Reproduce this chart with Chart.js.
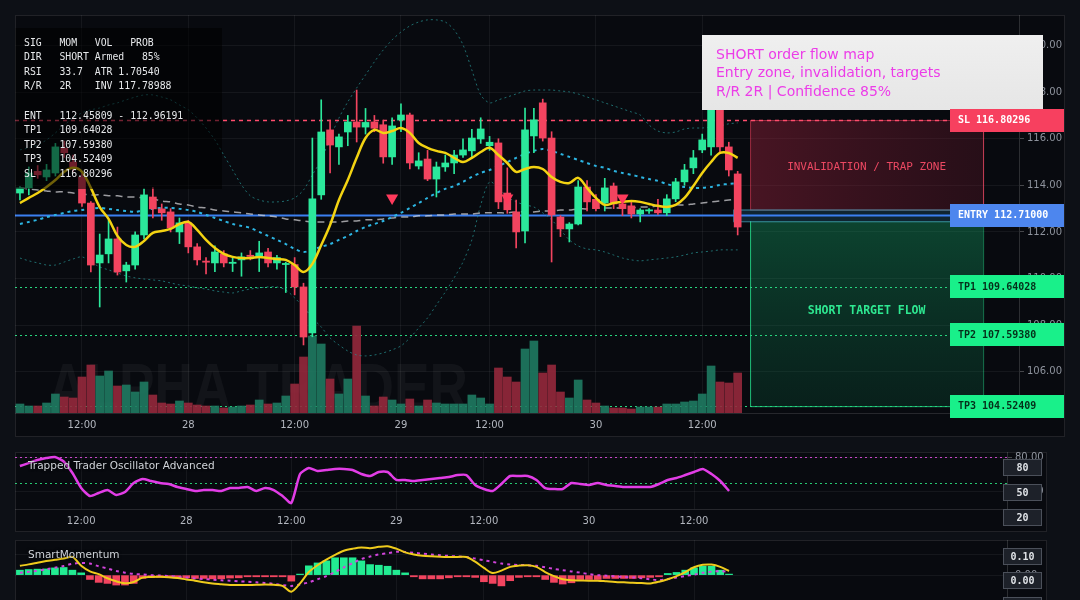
<!DOCTYPE html>
<html>
<head>
<meta charset="utf-8">
<script src="https://cdn.jsdelivr.net/npm/chart.js@4.4.1/dist/chart.umd.min.js"></script>
<style>
  html, body { margin: 0; padding: 0; background: #0d1016; }
  body { width: 1080px; height: 600px; position: relative; overflow: hidden; }
  canvas { position: absolute; }
  #main { left: 15px; top: 15px; }
  #osc { left: 15px; top: 452px; }
  #mom { left: 15px; top: 540px; }
</style>
</head>
<body>
<canvas id="main" width="1050" height="422"></canvas>
<canvas id="osc" width="1032" height="80"></canvas>
<canvas id="mom" width="1032" height="62"></canvas>
<script>
// time axis (hourly candles, index based)
const tickIdx = [7, 19, 31, 43, 53, 65, 77];
const tickText = ['12:00', '28', '12:00', '29', '12:00', '30', '12:00'];
const priceTicks = [106, 108, 110, 112, 114, 116, 118, 120];
const oscTicks = [40, 80];
const momTicks = [0, 0.1];

const openP = [113.67,113.89,114.60,114.36,114.53,115.60,115.00,114.36,113.24,110.67,
  111.06,111.70,110.33,110.58,111.87,113.50,112.99,112.86,112.00,112.39,
  111.36,110.75,110.67,111.06,110.65,110.80,111.00,110.95,111.14,110.67,
  110.60,110.60,109.64,107.67,113.59,116.38,115.65,116.29,116.72,116.50,
  116.72,116.60,115.22,116.80,117.02,114.83,115.13,114.27,114.79,114.96,
  115.30,115.48,115.99,115.70,115.82,113.67,112.86,112.04,116.12,117.54,
  116.03,112.64,112.13,112.34,113.93,113.40,113.24,113.97,113.20,113.12,
  112.77,112.90,112.94,112.82,113.42,114.15,114.75,115.52,115.65,117.70,
  115.65,114.49];
const highP = [113.95,114.79,114.85,114.90,115.80,115.90,115.30,114.50,113.30,111.91,
  112.52,112.21,110.70,112.00,113.85,113.90,113.20,113.00,112.60,112.50,
  111.50,110.90,111.40,111.20,110.90,111.10,111.20,111.60,111.30,111.00,
  110.70,110.90,109.80,116.03,117.67,116.80,116.20,117.00,118.09,117.30,
  117.00,116.80,116.90,117.50,117.10,115.40,115.50,115.00,115.30,115.50,
  116.00,116.40,116.90,116.10,116.00,114.75,113.37,117.32,117.30,117.70,
  116.30,112.70,112.40,114.20,114.20,113.60,114.30,114.10,113.50,113.30,
  113.00,113.00,113.40,113.60,114.30,114.90,115.50,116.20,118.30,118.00,
  115.85,114.60];
const lowP = [113.37,113.59,114.30,114.20,114.40,115.20,114.60,113.10,110.28,108.78,
  110.67,110.15,109.85,110.40,111.70,112.60,112.50,112.00,111.50,111.10,
  110.58,110.20,110.30,110.50,110.30,110.10,110.80,110.30,110.50,110.40,
  109.40,109.30,107.15,107.50,113.40,114.53,114.90,115.70,115.86,116.20,
  116.30,114.95,114.90,116.30,114.70,114.70,114.20,113.50,114.60,114.50,
  115.20,115.20,115.80,115.50,113.00,112.80,111.31,111.53,115.40,115.90,
  110.71,111.80,111.57,112.30,112.90,112.90,112.90,113.00,112.70,112.60,
  112.43,112.80,112.75,112.70,113.30,114.00,114.50,115.40,115.30,115.40,
  114.40,111.87];
const closeP = [113.89,114.53,114.45,114.66,115.65,115.40,114.80,113.24,110.58,111.01,
  111.70,110.28,110.58,111.87,113.59,112.99,112.82,112.17,112.39,111.36,
  110.80,110.70,111.14,110.67,110.70,110.93,110.95,111.10,110.67,110.90,
  110.65,109.64,107.49,113.42,116.29,115.73,116.08,116.72,116.50,116.70,
  116.45,115.22,116.55,117.02,114.96,115.05,114.27,114.79,114.96,115.30,
  115.52,116.03,116.42,115.85,113.29,112.95,112.00,116.38,116.81,116.03,
  112.73,112.13,112.34,113.93,113.29,113.00,113.89,113.20,113.00,112.77,
  112.94,112.95,112.82,113.42,114.15,114.66,115.18,115.95,117.80,115.65,
  114.66,112.21];
const volume = [90,70,70,100,190,160,150,360,480,370,
  420,270,280,210,310,180,100,90,120,100,
  80,70,70,50,60,70,80,130,90,100,
  170,290,560,770,690,340,190,340,870,170,
  70,160,130,90,140,70,130,100,90,90,
  90,180,150,90,450,360,310,640,720,400,
  480,210,150,330,130,100,70,50,50,40,
  60,60,60,90,90,110,120,190,470,310,
  300,400];

const emaFast = [113.24,113.46,113.67,113.93,114.23,114.58,114.75,114.58,113.89,113.07,
  112.56,111.83,111.44,111.36,111.61,111.96,112.04,112.13,112.34,112.43,
  112.09,111.66,111.31,111.06,110.93,110.88,110.88,110.93,110.88,110.84,
  110.80,110.58,110.28,110.63,111.44,112.30,113.37,114.23,115.18,116.03,
  116.38,116.25,116.33,116.46,116.25,115.82,115.61,115.48,115.39,115.18,
  115.00,115.18,115.43,115.61,115.30,114.96,114.58,114.70,114.79,114.70,
  114.36,114.15,114.10,114.32,113.89,113.46,113.16,113.24,113.29,113.33,
  113.29,113.20,113.12,113.07,113.16,113.46,113.97,114.53,115.00,115.39,
  115.39,115.18];
const emaSlow = [112.34,112.43,112.52,112.64,112.73,112.82,112.90,112.94,112.99,113.03,
  112.99,112.94,112.90,112.86,112.94,112.99,113.03,113.03,112.99,112.94,
  112.86,112.73,112.60,112.47,112.34,112.26,112.17,112.00,111.83,111.66,
  111.48,111.27,111.14,111.23,111.36,111.48,111.66,111.83,112.04,112.21,
  112.34,112.47,112.64,112.82,113.03,113.24,113.46,113.67,113.85,113.97,
  114.15,114.36,114.53,114.66,114.83,115.00,115.18,115.35,115.48,115.56,
  115.48,115.35,115.22,115.09,114.96,114.83,114.75,114.62,114.53,114.45,
  114.36,114.27,114.19,114.06,113.97,113.93,113.89,113.89,113.93,114.02,
  114.06,114.10];
const smaLong = [113.89,113.85,113.80,113.76,113.72,113.72,113.67,113.63,113.59,113.59,
  113.55,113.55,113.50,113.50,113.46,113.42,113.33,113.29,113.20,113.16,
  113.07,113.03,112.94,112.90,112.86,112.82,112.77,112.73,112.69,112.64,
  112.56,112.52,112.47,112.43,112.43,112.43,112.43,112.47,112.47,112.52,
  112.52,112.56,112.60,112.64,112.64,112.69,112.69,112.73,112.73,112.77,
  112.77,112.77,112.82,112.82,112.82,112.82,112.86,112.86,112.86,112.90,
  112.90,112.94,112.94,112.99,112.99,113.03,113.03,113.03,113.03,113.03,
  113.07,113.07,113.12,113.12,113.16,113.16,113.20,113.24,113.29,113.33,
  113.37,113.42];
const bbUpper = [115.52,115.61,115.73,115.95,116.25,116.59,116.89,117.11,117.24,117.32,
  117.45,117.54,117.67,117.79,117.88,117.88,117.79,117.67,117.45,117.24,
  116.89,116.46,115.95,115.30,114.66,114.02,113.55,113.37,113.29,113.29,
  113.33,113.46,113.80,114.45,115.09,116.03,116.89,117.58,118.18,118.74,
  119.30,119.81,120.24,120.58,120.84,121.01,121.10,121.10,121.01,120.67,
  120.03,118.95,117.88,117.54,117.67,117.79,117.92,118.05,118.09,118.09,
  118.09,118.05,118.01,117.92,117.79,117.67,117.54,117.41,117.28,117.15,
  117.02,116.59,116.33,116.25,116.29,116.42,116.46,116.46,116.51,116.55,
  116.64,116.68];
const bbLower = [110.88,110.76,110.67,110.58,110.58,110.71,110.84,110.93,110.71,110.50,
  110.37,110.24,110.11,110.03,109.98,109.94,109.90,109.81,109.73,109.68,
  109.60,109.55,109.47,109.42,109.38,109.47,109.55,109.60,109.64,109.64,
  109.51,109.17,108.78,108.31,107.92,107.45,107.15,106.89,106.72,106.68,
  106.72,106.81,106.94,107.11,107.45,107.88,108.31,108.87,109.42,110.03,
  110.71,111.66,113.16,114.15,113.89,113.50,113.29,113.16,113.07,112.82,
  112.52,112.09,111.66,111.40,111.27,111.23,111.14,111.01,110.88,110.80,
  110.76,110.80,110.84,110.88,110.93,111.01,111.10,111.14,111.18,111.23,
  111.23,111.23];

const signalIdx = [42, 55, 68];
const signalPrice = [113.46, 113.46, 113.46];

const SL = 116.80296, ENTRY = 112.71, ENT_LO = 112.45809, ENT_HI = 112.96191;
const TP1 = 109.64028, TP2 = 107.59380, TP3 = 104.52409;

const oscVals = [69.6,73.0,76.5,78.8,80.0,74.8,61.5,44.2,35.0,38.5,
  41.9,36.2,39.6,50.0,54.6,52.3,50.0,48.9,45.4,43.1,
  40.8,41.9,41.9,40.8,44.2,44.2,45.4,40.8,44.2,41.9,
  35.0,26.9,60.4,67.3,63.9,65.0,66.2,66.2,65.0,60.4,
  58.1,62.7,62.7,53.5,53.5,52.3,53.5,54.6,55.8,56.9,
  59.2,59.2,47.7,43.1,40.8,48.9,58.1,58.1,58.1,53.5,
  44.2,43.1,43.1,50.0,48.9,47.7,50.0,47.7,46.5,45.4,
  45.4,45.4,45.4,48.9,53.5,55.8,59.2,62.7,66.2,60.4,
  52.3,40.8];
const oscHigh = 80, oscMid = 50;

const momHist = [0.024,0.027,0.029,0.030,0.035,0.037,0.024,0.011,-0.021,-0.035,
  -0.040,-0.048,-0.048,-0.040,-0.016,-0.011,-0.011,-0.011,-0.013,-0.013,
  -0.016,-0.016,-0.018,-0.018,-0.014,-0.013,-0.008,-0.008,-0.008,-0.008,
  -0.008,-0.029,0.005,0.045,0.059,0.069,0.084,0.084,0.084,0.069,
  0.051,0.048,0.043,0.024,0.011,-0.008,-0.018,-0.018,-0.018,-0.013,
  -0.008,-0.008,-0.011,-0.032,-0.040,-0.052,-0.027,-0.011,-0.008,-0.008,
  -0.021,-0.035,-0.043,-0.037,-0.021,-0.021,-0.021,-0.016,-0.016,-0.016,
  -0.016,-0.013,-0.011,-0.008,0.008,0.013,0.024,0.035,0.043,0.043,
  0.024,0.005];
const momLine = [0.045,0.052,0.060,0.068,0.074,0.080,0.088,0.045,0.018,0.005,
  -0.015,-0.030,-0.039,-0.033,-0.012,-0.009,-0.008,-0.010,-0.014,-0.021,
  -0.027,-0.034,-0.040,-0.044,-0.048,-0.048,-0.048,-0.047,-0.045,-0.047,
  -0.052,-0.080,-0.040,0.015,0.048,0.075,0.098,0.118,0.128,0.134,
  0.130,0.137,0.140,0.128,0.110,0.100,0.094,0.091,0.089,0.088,
  0.088,0.088,0.065,0.035,0.010,0.022,0.040,0.046,0.048,0.040,
  0.015,-0.005,-0.020,-0.025,-0.026,-0.027,-0.027,-0.030,-0.033,-0.035,
  -0.037,-0.038,-0.040,-0.032,-0.020,-0.005,0.015,0.038,0.050,0.051,
  0.040,0.020];
const momSignal = [0.012,0.016,0.021,0.028,0.036,0.044,0.055,0.059,0.056,0.043,
  0.032,0.020,0.012,0.006,0.003,0.000,-0.002,-0.004,-0.008,-0.012,
  -0.016,-0.019,-0.022,-0.025,-0.027,-0.030,-0.032,-0.035,-0.038,-0.042,
  -0.048,-0.052,-0.045,-0.035,-0.020,-0.005,0.015,0.038,0.058,0.078,
  0.090,0.100,0.106,0.113,0.112,0.108,0.104,0.100,0.096,0.093,
  0.090,0.088,0.080,0.072,0.064,0.056,0.052,0.049,0.048,0.045,
  0.038,0.030,0.024,0.018,0.012,0.005,0.000,-0.003,-0.006,-0.009,
  -0.011,-0.015,-0.020,-0.024,-0.019,-0.012,-0.004,0.002,0.012,0.017,
  0.019,0.016];

const infoRows = [
  'SIG   MOM   VOL   PROB',
  'DIR   SHORT Armed   85%',
  'RSI   33.7  ATR 1.70540',
  'R/R   2R    INV 117.78988',
  '',
  'ENT   112.45809 - 112.96191',
  'TP1   109.64028',
  'TP2   107.59380',
  'TP3   104.52409',
  'SL    116.80296'
];
const noteLines = ['SHORT order flow map', 'Entry zone, invalidation, targets', 'R/R 2R | Confidence 85%'];
const levelLabels = [
  { text: 'SL 116.80296', value: SL, bg: '#f7405f', fg: '#ffffff' },
  { text: 'ENTRY 112.71000', value: ENTRY, bg: '#4d86ee', fg: '#ffffff' },
  { text: 'TP1 109.64028', value: TP1, bg: '#19f08a', fg: '#05301a' },
  { text: 'TP2 107.59380', value: TP2, bg: '#19f08a', fg: '#05301a' },
  { text: 'TP3 104.52409', value: TP3, bg: '#19f08a', fg: '#05301a' }
];

// view window
const xMin = -0.56, xMax = 112.75;
const zoneFrom = 82.4, zoneTo = 108.7, entryFrom = 80.5;
const priceMin = 104.23, priceMax = 121.31;

Chart.defaults.font.family = 'DejaVu Sans';
Chart.defaults.font.size = 10;

const MONO = '"DejaVu Sans Mono"';
const GRID = 'rgba(255,255,255,0.055)';
const idx = openP.map((_, i) => i);
const pts = arr => arr.map((v, i) => ({ x: i, y: v }));
const up = idx.map(i => closeP[i] >= openP[i]);
const candleCol = up.map(u => u ? '#2be89b' : '#f2445f');

function xAxis(showLabels, h) {
  return {
    type: 'linear', min: xMin, max: xMax, offset: false,
    grid: { color: GRID, drawTicks: false, offset: false },
    border: { color: 'rgba(255,255,255,0.12)' },
    ticks: { display: showLabels, color: '#b3b7bf', font: { size: 10 }, padding: 6, maxRotation: 0, autoSkip: false,
      callback: v => tickText[tickIdx.indexOf(v)] || '' },
    afterBuildTicks: s => { s.ticks = tickIdx.map(v => ({ value: v })); },
    afterFit: s => { s.height = h; s.paddingLeft = 0; s.paddingRight = 0; }
  };
}
function yAxis(min, max, ticks, w, fmt) {
  return {
    type: 'linear', position: 'right', min: min, max: max,
    grid: { color: GRID, tickLength: 5, tickColor: 'rgba(255,255,255,0.25)' },
    border: { color: 'rgba(255,255,255,0.15)' },
    ticks: { color: '#8e939d', font: { size: 10 }, padding: 3, callback: fmt },
    afterBuildTicks: s => { s.ticks = ticks.map(v => ({ value: v })); },
    afterFit: s => { s.width = w; s.paddingTop = 0; s.paddingBottom = 0; }
  };
}
const bgPlugin = {
  id: 'bg',
  beforeDraw(chart) {
    const c = chart.ctx;
    c.save();
    c.fillStyle = '#080a0f';
    c.fillRect(0, 0, chart.width, chart.height);
    c.restore();
  }
};
function box(c, x, y, w, h, fill, stroke) {
  c.fillStyle = fill;
  c.fillRect(x, y, w, h);
  if (stroke) { c.strokeStyle = stroke; c.lineWidth = 1; c.strokeRect(x + 0.5, y + 0.5, w - 1, h - 1); }
}

// ---------- main price chart ----------
const mainPlugin = {
  id: 'mainDecor',
  beforeDatasetsDraw(chart) {
    const c = chart.ctx, a = chart.chartArea, x = chart.scales.x, y = chart.scales.y;
    c.save();
    // watermark
    c.fillStyle = 'rgba(255,255,255,0.045)';
    c.font = 'bold 66px "Liberation Sans"';
    c.textBaseline = 'alphabetic';
    c.fillText('ALPHA TRADER', a.left + 33, a.bottom - 3, 420);

    const x0 = x.getPixelForValue(zoneFrom), x1 = x.getPixelForValue(zoneTo);
    // invalidation zone
    let yt = y.getPixelForValue(SL), yb = y.getPixelForValue(ENT_HI);
    let g = c.createLinearGradient(x0, 0, x1, 0);
    g.addColorStop(0, 'rgba(160,35,62,0.42)');
    g.addColorStop(1, 'rgba(110,25,45,0.30)');
    c.fillStyle = g;
    c.fillRect(x0, yt, x1 - x0, yb - yt);
    c.strokeStyle = 'rgba(255,70,100,0.45)';
    c.lineWidth = 1;
    c.strokeRect(x0 + 0.5, yt + 0.5, x1 - x0, yb - yt);
    // target zone
    yt = y.getPixelForValue(ENT_LO); yb = y.getPixelForValue(TP3);
    g = c.createLinearGradient(0, yt, 0, yb);
    g.addColorStop(0, 'rgba(20,170,105,0.36)');
    g.addColorStop(1, 'rgba(10,110,70,0.22)');
    c.fillStyle = g;
    c.fillRect(x0, yt, x1 - x0, yb - yt);
    c.strokeStyle = 'rgba(40,240,150,0.75)';
    c.beginPath();
    c.moveTo(x0 + 0.5, yt); c.lineTo(x0 + 0.5, yb + 0.5); c.lineTo(x1, yb + 0.5);
    c.stroke();
    c.strokeStyle = 'rgba(40,240,150,0.45)';
    c.beginPath(); c.moveTo(x1 + 0.5, yt); c.lineTo(x1 + 0.5, yb); c.stroke();
    // entry band
    const xe = x.getPixelForValue(entryFrom);
    yt = y.getPixelForValue(ENT_HI); yb = y.getPixelForValue(ENT_LO);
    c.fillStyle = 'rgba(40,130,170,0.22)';
    c.fillRect(xe, yt, x1 - xe, yb - yt);
    c.strokeStyle = 'rgba(80,190,220,0.65)';
    c.strokeRect(xe + 0.5, yt + 0.5, x1 - xe, yb - yt);

    // level lines
    const lineEnd = a.right - 69;
    const hline = (v, col, w, dash) => {
      const py = Math.round(y.getPixelForValue(v)) + 0.5;
      c.strokeStyle = col; c.lineWidth = w; c.setLineDash(dash);
      c.beginPath(); c.moveTo(a.left, py); c.lineTo(lineEnd, py); c.stroke();
    };
    hline(SL, '#ff4d6d', 1.5, [4, 4]);
    hline(TP1, '#26d67e', 1, [2, 3]);
    hline(TP2, '#26d67e', 1, [2, 3]);
    hline(TP3, '#26d67e', 1, [2, 3]);
    hline(ENTRY, '#3b7ff0', 2, []);
    c.setLineDash([]);
    c.restore();
  },
  afterDatasetsDraw(chart) {
    const c = chart.ctx, a = chart.chartArea, x = chart.scales.x, y = chart.scales.y;
    c.save();
    // info panel
    c.fillStyle = 'rgba(0,0,0,0.55)';
    c.fillRect(0, 13, 207, 161);
    c.fillStyle = '#e6e8ea';
    c.font = '9.8px ' + MONO;
    c.textBaseline = 'middle';
    c.textAlign = 'left';
    infoRows.forEach((r, k) => c.fillText(r, 9, 28 + k * 14.6));

    // note box
    const ng = c.createLinearGradient(0, 20, 0, 95);
    ng.addColorStop(0, '#efefef');
    ng.addColorStop(1, '#e6e6e6');
    c.fillStyle = ng;
    c.fillRect(687, 20, 341, 75);
    c.fillStyle = '#ec3ce8';
    c.font = '14px "DejaVu Sans"';
    noteLines.forEach((t, k) => c.fillText(t, 701, 40 + k * 18.6));

    // zone texts
    const xm = (x.getPixelForValue(zoneFrom) + x.getPixelForValue(zoneTo)) / 2;
    c.textAlign = 'center';
    c.font = '11px ' + MONO;
    c.fillStyle = '#ec4862';
    c.fillText('INVALIDATION / TRAP ZONE', xm, (y.getPixelForValue(SL) + y.getPixelForValue(ENT_HI)) / 2 + 2);
    c.font = 'bold 11.5px ' + MONO;
    c.fillStyle = '#2ee891';
    c.fillText('SHORT TARGET FLOW', xm, (y.getPixelForValue(ENT_LO) + y.getPixelForValue(TP3)) / 2 - 3);

    // zone right edge
    const x1 = Math.round(x.getPixelForValue(zoneTo)) + 0.5;
    c.lineWidth = 1;
    c.strokeStyle = 'rgba(255,80,110,0.55)';
    c.beginPath(); c.moveTo(x1, y.getPixelForValue(SL)); c.lineTo(x1, y.getPixelForValue(ENT_HI)); c.stroke();

    // price labels
    c.textAlign = 'left';
    c.font = 'bold 10px ' + MONO;
    levelLabels.forEach(l => {
      const py = y.getPixelForValue(l.value);
      c.fillStyle = l.bg;
      c.fillRect(a.right - 69, Math.round(py - 11.5), 114, 23);
      c.fillStyle = l.fg;
      c.fillText(l.text, a.right - 61, py + 0.5);
    });

    // panel frame
    c.strokeStyle = 'rgba(255,255,255,0.10)';
    c.strokeRect(0.5, 0.5, chart.width - 1, chart.height - 1);
    c.restore();
  }
};

new Chart(document.getElementById('main'), {
  type: 'bar',
  data: {
    datasets: [
      { type: 'bar', yAxisID: 'yv', data: pts(volume), order: 10, grouped: false, barThickness: 8,
        backgroundColor: up.map(u => u ? 'rgba(31,122,98,0.9)' : 'rgba(150,40,60,0.9)') },
      { type: 'line', yAxisID: 'y', data: pts(bbUpper), order: 9, borderColor: 'rgba(38,140,140,0.75)', borderWidth: 1,
        borderDash: [2, 3], pointRadius: 0, tension: 0.3 },
      { type: 'line', yAxisID: 'y', data: pts(bbLower), order: 9, borderColor: 'rgba(38,140,140,0.75)', borderWidth: 1,
        borderDash: [2, 3], pointRadius: 0, tension: 0.3 },
      { type: 'line', yAxisID: 'y', data: pts(smaLong), order: 8, borderColor: 'rgba(205,205,210,0.75)', borderWidth: 1.5,
        borderDash: [7, 5], pointRadius: 0, tension: 0.3 },
      { type: 'line', yAxisID: 'y', data: pts(emaSlow), order: 7, borderColor: '#2cb5e2', borderWidth: 2,
        borderDash: [3, 4], pointRadius: 0, tension: 0.3 },
      { type: 'bar', yAxisID: 'y', data: idx.map(i => ({ x: i, y: [lowP[i], highP[i]] })), order: 6, grouped: false,
        barThickness: 1, backgroundColor: candleCol },
      { type: 'bar', yAxisID: 'y', data: idx.map(i => ({ x: i, y: [openP[i], closeP[i]] })), order: 5, grouped: false,
        barThickness: 7, minBarLength: 1, backgroundColor: candleCol },
      { type: 'line', yAxisID: 'y', data: pts(emaFast), order: 4, borderColor: '#f3d312', borderWidth: 2.5,
        pointRadius: 0, tension: 0.35 },
      { type: 'scatter', yAxisID: 'y', data: signalIdx.map((v, k) => ({ x: v, y: signalPrice[k] })), order: 3,
        pointStyle: 'triangle', rotation: 180, pointRadius: 7, backgroundColor: '#ff3a5c', borderWidth: 0 }
    ]
  },
  options: {
    responsive: false, animation: false, events: [],
    layout: { padding: 0, autoPadding: false },
    plugins: { legend: { display: false }, tooltip: { enabled: false } },
    scales: {
      x: xAxis(true, 24),
      y: yAxis(priceMin, priceMax, priceTicks, 46, v => v.toFixed(2)),
      yv: { type: 'linear', display: false, min: 0, max: 3980 }
    }
  },
  plugins: [bgPlugin, mainPlugin]
});

// ---------- oscillator ----------
function sideBoxes(c, labels, tops) {
  c.font = 'bold 10px ' + MONO;
  c.textAlign = 'center';
  c.textBaseline = 'middle';
  labels.forEach((t, k) => {
    box(c, 988, tops[k], 39, 17, '#1d2129', '#4b505a');
    c.fillStyle = '#dfe2e6';
    c.fillText(t, 1007.5, tops[k] + 9);
  });
}
const oscPlugin = {
  id: 'oscDecor',
  beforeDatasetsDraw(chart) {
    const c = chart.ctx, a = chart.chartArea, y = chart.scales.y;
    c.save();
    c.lineWidth = 1;
    c.setLineDash([2, 3]);
    [[oscHigh, 'rgba(210,70,210,0.95)'], [oscMid, 'rgba(40,210,120,0.95)']].forEach(([v, col]) => {
      const py = Math.round(y.getPixelForValue(v)) + 0.5;
      c.strokeStyle = col;
      c.beginPath(); c.moveTo(a.left, py); c.lineTo(a.right, py); c.stroke();
    });
    c.restore();
  },
  afterDatasetsDraw(chart) {
    const c = chart.ctx;
    c.save();
    c.font = '10.5px "DejaVu Sans"';
    c.fillStyle = '#d0d4da';
    c.textBaseline = 'middle';
    c.shadowColor = '#000'; c.shadowBlur = 3;
    c.fillText('Trapped Trader Oscillator Advanced', 13, 14);
    c.shadowBlur = 0;
    sideBoxes(c, ['80', '50', '20'], [7, 32, 57]);
    c.strokeStyle = 'rgba(255,255,255,0.10)';
    c.strokeRect(0.5, 0.5, chart.width - 1, chart.height - 1);
    c.restore();
  }
};
new Chart(document.getElementById('osc'), {
  type: 'line',
  data: { datasets: [{ data: pts(oscVals), borderColor: '#e23de6', borderWidth: 2.5, pointRadius: 0, tension: 0.2 }] },
  options: {
    responsive: false, animation: false, events: [],
    layout: { padding: 0, autoPadding: false },
    plugins: { legend: { display: false }, tooltip: { enabled: false } },
    scales: {
      x: xAxis(true, 23),
      y: yAxis(20, 85.8, oscTicks, 40, v => v.toFixed(2))
    }
  },
  plugins: [bgPlugin, oscPlugin]
});

// ---------- momentum ----------
const momPlugin = {
  id: 'momDecor',
  afterDatasetsDraw(chart) {
    const c = chart.ctx;
    c.save();
    c.font = '10.5px "DejaVu Sans"';
    c.fillStyle = '#d0d4da';
    c.textBaseline = 'middle';
    c.shadowColor = '#000'; c.shadowBlur = 3;
    c.fillText('SmartMomentum', 13, 15);
    c.shadowBlur = 0;
    sideBoxes(c, ['0.10', '0.00', ''], [8, 32, 57]);
    c.strokeStyle = 'rgba(255,255,255,0.10)';
    c.strokeRect(0.5, 0.5, chart.width - 1, chart.height + 5);
    c.restore();
  }
};
new Chart(document.getElementById('mom'), {
  type: 'bar',
  data: {
    datasets: [
      { type: 'bar', data: pts(momHist), order: 3, grouped: false, barThickness: 7,
        backgroundColor: momHist.map(v => v >= 0 ? '#22ec92' : '#f2445f') },
      { type: 'line', data: pts(momSignal), order: 2, borderColor: '#d244dc', borderWidth: 2, borderDash: [3, 4],
        pointRadius: 0, tension: 0.3 },
      { type: 'line', data: pts(momLine), order: 1, borderColor: '#efcb1c', borderWidth: 2, pointRadius: 0, tension: 0.3 }
    ]
  },
  options: {
    responsive: false, animation: false, events: [],
    layout: { padding: 0, autoPadding: false },
    plugins: { legend: { display: false }, tooltip: { enabled: false } },
    scales: {
      x: xAxis(false, 0),
      y: yAxis(-0.13, 0.17, momTicks, 40, v => v.toFixed(2))
    }
  },
  plugins: [bgPlugin, momPlugin]
});
</script>
</body>
</html>
